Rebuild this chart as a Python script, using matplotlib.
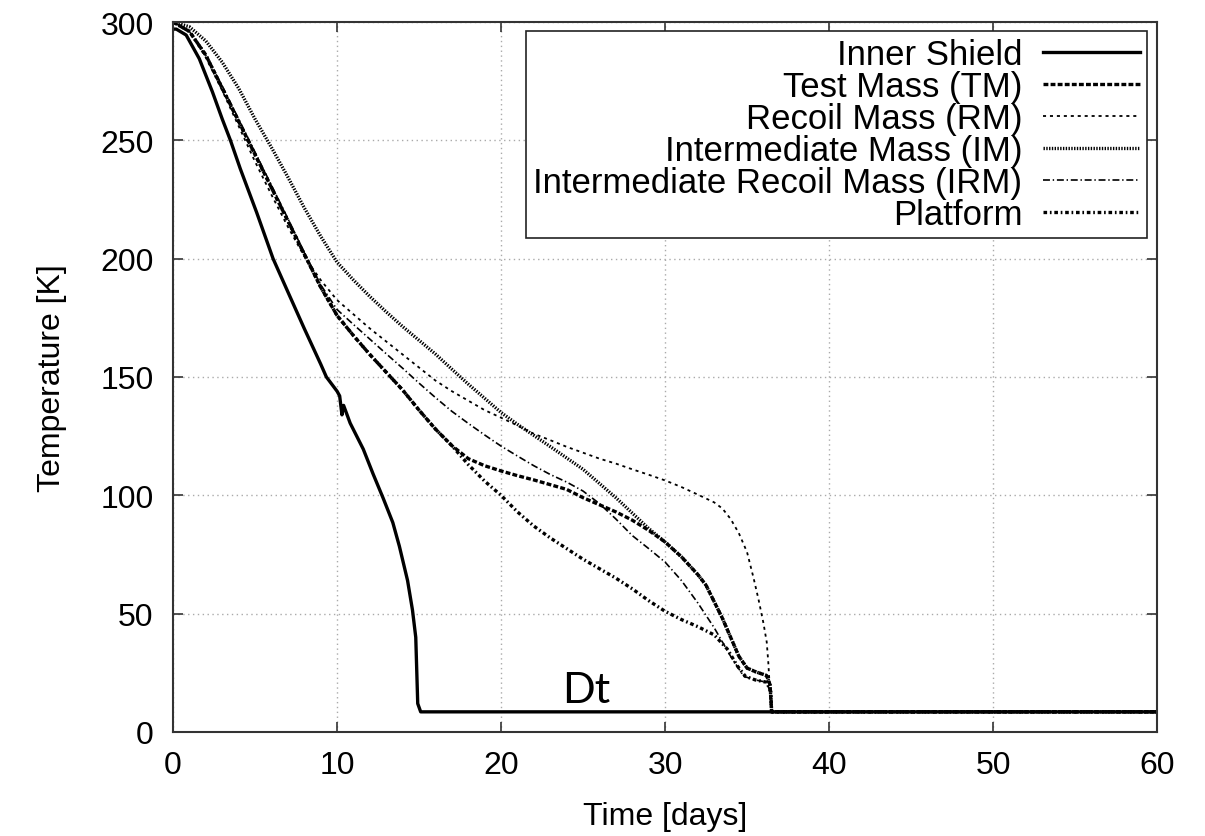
import matplotlib
matplotlib.use('Agg')
import matplotlib.pyplot as plt

plt.rcParams['font.family'] = ['Liberation Sans', 'DejaVu Sans']
plt.rcParams['lines.scale_dashes'] = False

# Inner Shield
shield_t = [0, 0.2, 0.8, 1.6, 2.4, 3.0, 3.5, 4.1, 5.1, 6.1, 7, 8, 9, 9.35, 10.0, 10.16,
            10.3, 10.4, 10.8, 11.6, 12.2, 12.8, 13.4, 13.8, 14.3, 14.6, 14.8, 14.86,
            14.92, 15.1, 60]
shield_T = [297, 297, 294.5, 284.5, 270.5, 259, 250, 238, 219.5, 200, 186, 170.5, 155.5, 150,
            144, 142, 134, 138, 130.5, 119.5, 109, 99, 88.5, 78.5, 64, 51.5, 40, 26,
            12, 8.5, 8.5]

# Test Mass (TM)
tm_t = [0, 1, 2, 3, 4, 5, 6, 7, 8, 9, 10, 11, 12, 13, 14, 15, 16, 17, 18, 19, 20, 21, 22,
        23, 24, 25, 26, 27, 28, 29, 30, 31, 32, 32.5, 33, 33.5, 34, 34.5, 35, 35.5, 36.2,
        36.4, 36.5, 60]
tm_T = [300, 296, 286, 272, 258, 244, 230, 216, 202, 188, 176, 167.5, 159.5, 152, 144.5,
        136, 128, 121, 115.5, 112.5, 110.3, 108.3, 106.5, 104.5, 102.5, 99, 96, 93, 89.5,
        85.2, 80.3, 74, 66.5, 62, 55, 48, 40, 32, 27, 25.5, 23.8, 20, 8.5, 8.5]

# Recoil Mass (RM)
rm_t = [0, 1, 2, 3, 4, 5, 6, 7, 8, 9, 10, 11, 12, 13, 14, 15, 16, 17, 18, 19, 20, 21, 22,
        23, 24, 25, 26, 27, 28, 29, 30, 31, 32, 33, 33.5, 34, 34.5, 35, 35.4, 35.7, 36,
        36.2, 36.3, 36.4, 36.5, 60]
rm_T = [300, 296, 285, 271, 256, 241, 227, 213.5, 201, 191, 182.5, 176.5, 170.5, 165, 159.5,
        154, 148.5, 144, 140, 136, 132.8, 129.5, 126, 123.3, 120.5, 118, 115.5, 113.4, 111,
        108.7, 106.3, 103.5, 100.3, 97, 94.4, 90, 84, 76, 65, 56, 46, 38, 29, 17, 8.5, 8.5]

# Intermediate Mass (IM)
im_t = [0, 1, 2, 3, 4, 5, 6, 7, 8, 9, 10, 11, 12, 13, 14, 15, 16, 17, 18, 19, 20, 21, 22,
        23, 24, 25, 26, 27, 28, 29, 30, 31, 32, 32.5, 33, 33.5, 34, 34.5, 35, 35.5, 36.2,
        36.4, 36.5, 60]
im_T = [300, 298, 292, 283, 272, 259, 247, 234.5, 221.5, 209.5, 198.5, 191, 184, 177.5,
        171.3, 165.5, 159.7, 153.3, 147, 141, 135, 130, 125.3, 120.6, 115.8, 111, 105, 99,
        92.5, 86, 80.3, 74, 66.5, 62, 55, 48, 40, 32, 27, 25.5, 23.8, 20, 8.5, 8.5]

# Intermediate Recoil Mass (IRM)
irm_t = [0, 1, 2, 3, 4, 5, 6, 7, 8, 9, 10, 11, 12, 13, 14, 15, 16, 17, 18, 19, 20, 21, 22,
         23, 24, 25, 26, 27, 28, 29, 30, 31, 32, 33, 34, 34.8, 35.5, 36.2, 36.4, 36.5, 60]
irm_T = [300, 296, 286, 273, 259, 245, 231, 217, 202.5, 189, 178.5, 172.2, 166, 159.8,
         153.7, 147.4, 141.3, 135.5, 130.4, 125.5, 120.8, 116.6, 112.5, 108.8, 105.6, 101.8,
         96.5, 90, 83, 77.5, 71.8, 64, 54.5, 44, 32, 23.5, 22, 21, 17, 8.5, 8.5]

# Platform
plat_t = [0, 1, 2, 3, 4, 5, 6, 7, 8, 9, 10, 11, 12, 13, 14, 15, 16, 17, 18, 19, 20, 21, 22,
          23, 24, 25, 26, 27, 28, 29, 30, 31, 32, 33, 33.8, 34.4, 34.9, 35.5, 36.2, 36.45,
          36.5, 60]
plat_T = [300, 296, 286, 272, 258, 244, 230, 216, 202, 188, 176, 167.5, 159.5, 152, 144.5,
          136, 128, 121, 113, 106, 100, 93, 87, 82, 77.5, 73, 69, 65, 60.5, 55.5, 51, 47.5,
          44.5, 41, 35, 28, 23.5, 22, 21, 17, 8.5, 8.5]

fig = plt.figure(figsize=(12.05, 8.37), dpi=100)
ax = fig.add_axes([0.1436, 0.1243, 0.8166, 0.8482])

ax.plot(shield_t, shield_T, color='black', linewidth=2.4, label='Inner Shield')
ax.plot(tm_t, tm_T, color='black', linewidth=2.4, dashes=(3.5, 1.6), label='Test Mass (TM)')
ax.plot(rm_t, rm_T, color='black', linewidth=1.3, dashes=(2.2, 2.8), label='Recoil Mass (RM)')
ax.plot(im_t, im_T, color='black', linewidth=2.4, dashes=(1.0, 1.0),
        label='Intermediate Mass (IM)')
ax.plot(irm_t, irm_T, color='black', linewidth=1.2, dashes=(5, 2, 1, 2),
        label='Intermediate Recoil Mass (IRM)')
ax.plot(plat_t, plat_T, color='black', linewidth=2.4, dashes=(2.6, 2, 1.2, 2), label='Platform')

ax.set_xlim(0, 60)
ax.set_ylim(0, 300)
ax.set_xticks(range(0, 61, 10))
ax.set_yticks(range(0, 301, 50))
ax.grid(True, color='#aaaaaa', linewidth=1.0, dashes=(1, 2.5))
ax.tick_params(direction='in', length=7, width=1.2, top=True, right=True,
               labelsize=23, color='#333333')
ax.tick_params(axis='x', pad=13)
ax.tick_params(axis='y', pad=14)
for s in ax.spines.values():
    s.set_linewidth(1.5)
    s.set_color('#333333')

ax.set_xlabel('Time [days]', fontsize=23)
ax.set_ylabel('Temperature [K]', fontsize=23)
ax.xaxis.set_label_coords(0.5, -0.097)
ax.yaxis.set_label_coords(-0.108, 0.5)

leg = ax.legend(loc='upper right', bbox_to_anchor=(0.99, 0.987), borderaxespad=0,
                markerfirst=False, fontsize=25, handlelength=2.8, handletextpad=0.6,
                labelspacing=-0.03, borderpad=0.2, fancybox=False, framealpha=1,
                edgecolor='#222222')
leg.get_frame().set_linewidth(1.2)

ax.text(23.7, 12.6, 'Dt', fontsize=31, family=['Lato', 'DejaVu Sans'], va='baseline')

fig.savefig('out.png', dpi=100)
